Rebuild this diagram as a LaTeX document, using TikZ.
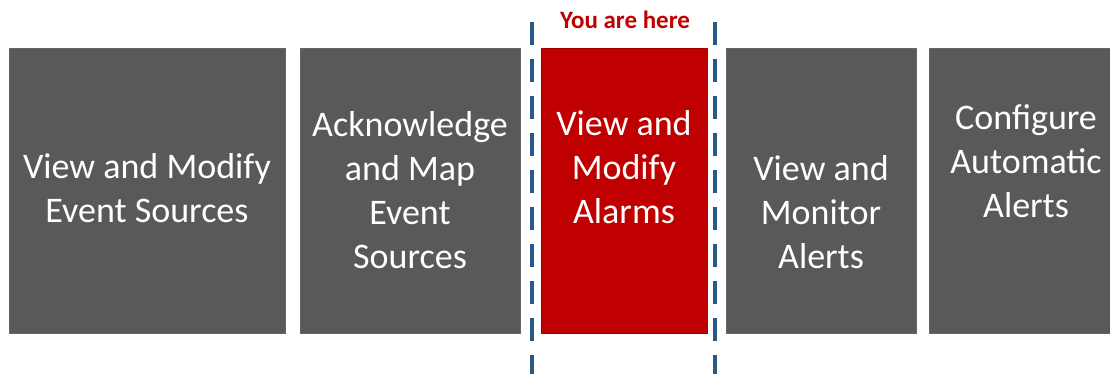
\documentclass[tikz,border=0pt]{standalone}
\usepackage{fontspec}
\newfontfamily\stagefont{Carlito}
\usepackage{tikz}
\usepackage{xcolor}
\usetikzlibrary{calc,positioning}
\definecolor{stagegray}{HTML}{595959}
\definecolor{stagered}{HTML}{C00000}
\definecolor{markblue}{HTML}{285A88}
\tikzset{%
	stage/.style   = {draw=gray!80!black, line width=0.6pt, fill=stagegray, rectangle, minimum height=285pt, inner sep=0pt},
	current/.style = {stage, draw=stagered!80!black, fill=stagered},
	caption/.style = {text=white, align=center, inner sep=0pt, font=\stagefont\fontsize{36}{44}\selectfont},
	marker/.style  = {draw=markblue, line width=3.2pt, dash pattern=on 23pt off 14pt},
}
\begin{document}
\begin{tikzpicture}[x=1pt,y=-1pt]
	\useasboundingbox (0,0) rectangle (1110,374);
	\node[stage, minimum width=276pt] (sources) at (147,190.5) {};
	\node[stage, minimum width=220pt] (acknowledge) at (410,190.5) {};
	\node[current, minimum width=166pt] (alarms) at (624,190.5) {};
	\node[stage, minimum width=190pt] (monitor) at (821,190.5) {};
	\node[stage, minimum width=184pt] (configure) at (1021,190.5) {};
	
	\node[caption] (t1) at ([yshift=2pt]sources.center) {View and Modify\\Event Sources};
	\node[caption] (t2) at (acknowledge.center) {Acknowledge\\and Map\\Event\\Sources};
	\node[caption] (t3) at ([yshift=23pt]alarms.center) {View and\\Modify\\Alarms};
	\node[caption] (t4) at ([yshift=-22pt]monitor.center) {View and\\Monitor\\Alerts};
	\node[caption] (t5) at ([xshift=5pt,yshift=29pt]configure.center) {Configure\\Automatic\\Alerts};
	
	\node[text=stagered, font=\stagefont\bfseries\fontsize{25}{30}\selectfont, inner sep=0pt] (here) at (625,20) {You are here};
	
	\coordinate (lefttop) at (532,22);
	\coordinate (leftbot) at (532,374);
	\coordinate (righttop) at (715,22);
	\coordinate (rightbot) at (715,374);
	\draw[marker] (lefttop) -- (leftbot);
	\draw[marker] (righttop) -- (rightbot);
\end{tikzpicture}
\end{document}
